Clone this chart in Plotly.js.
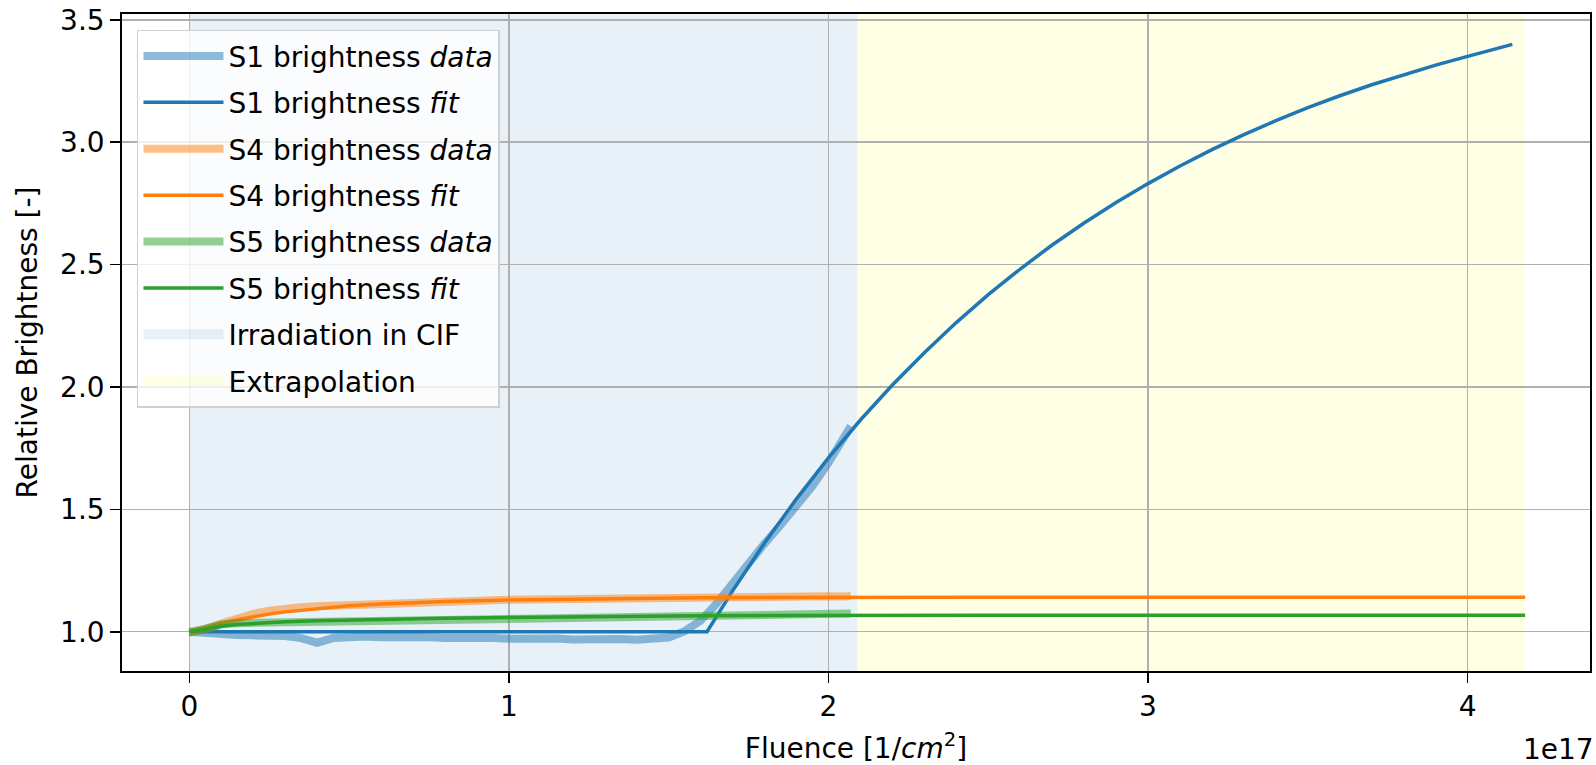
<!DOCTYPE html>
<html>
<head>
<meta charset="utf-8">
<script src="https://cdn.plot.ly/plotly-3.0.1.min.js"></script>
<style>html,body{margin:0;padding:0;background:#fff;}#chart{width:1596px;height:765px;}</style>
</head>
<body>
<div id="chart"></div>
<script>
// Fluence in units of 1e17 1/cm^2
const dataFluence = [0,0.05,0.10,0.15,0.20,0.25,0.30,0.35,0.40,0.45,0.50,0.55,0.60,0.65,0.70,0.75,0.80,0.85,0.90,0.95,1.00,1.05,1.10,1.15,1.20,1.25,1.30,1.35,1.40,1.45,1.50,1.55,1.60,1.65,1.70,1.75,1.80,1.85,1.90,1.95,2.00,2.05,2.07];
const s1Data = [1.000,0.993,0.990,0.987,0.985,0.986,0.982,0.974,0.955,0.974,0.981,0.980,0.977,0.979,0.975,0.977,0.974,0.976,0.972,0.974,0.971,0.973,0.969,0.972,0.968,0.971,0.967,0.970,0.967,0.969,0.976,1.002,1.045,1.115,1.200,1.280,1.360,1.435,1.515,1.595,1.690,1.790,1.840];
const s4Data = [1.000,1.010,1.033,1.056,1.073,1.086,1.095,1.100,1.104,1.107,1.110,1.113,1.116,1.118,1.121,1.122,1.125,1.126,1.128,1.129,1.131,1.132,1.134,1.134,1.136,1.137,1.138,1.139,1.140,1.140,1.141,1.142,1.143,1.142,1.143,1.144,1.143,1.144,1.145,1.144,1.145,1.144,1.146];
const s5Data = [0.995,1.016,1.030,1.035,1.036,1.038,1.040,1.042,1.044,1.045,1.047,1.048,1.050,1.051,1.052,1.053,1.054,1.055,1.056,1.057,1.058,1.059,1.060,1.061,1.061,1.062,1.063,1.063,1.064,1.065,1.065,1.066,1.066,1.067,1.067,1.068,1.068,1.069,1.069,1.070,1.070,1.071,1.074];

const s1FitFluence = [0,1.62,1.70,1.80,1.90,2.00,2.10,2.20,2.30,2.40,2.50,2.60,2.70,2.80,2.90,3.00,3.10,3.20,3.30,3.40,3.50,3.60,3.70,3.80,3.90,4.00,4.10,4.14];
const s1Fit = [1.000,1.000,1.167,1.362,1.543,1.710,1.865,2.008,2.140,2.263,2.377,2.482,2.580,2.670,2.754,2.831,2.903,2.970,3.031,3.088,3.141,3.190,3.235,3.276,3.315,3.351,3.384,3.400];

const fitFluence = [0,0.05,0.10,0.15,0.20,0.25,0.30,0.40,0.50,0.60,0.70,0.80,1.00,1.20,1.40,1.60,1.80,2.00,2.50,3.00,3.50,4.00,4.18];
const s4Fit = [1.000,1.019,1.035,1.049,1.062,1.072,1.081,1.095,1.106,1.113,1.119,1.123,1.130,1.134,1.137,1.139,1.140,1.141,1.141,1.141,1.141,1.141,1.141];
const s5Fit = [1.000,1.012,1.022,1.029,1.034,1.038,1.041,1.045,1.048,1.051,1.053,1.055,1.058,1.061,1.063,1.065,1.066,1.067,1.067,1.067,1.067,1.067,1.067];

const irradiationSpan = [0, 2.09];
const extrapolationSpan = [2.09, 4.18];

const seriesNames = ['S1 brightness <i>data</i>','S1 brightness <i>fit</i>','S4 brightness <i>data</i>','S4 brightness <i>fit</i>','S5 brightness <i>data</i>','S5 brightness <i>fit</i>'];
const spanNames = ['Irradiation in CIF','Extrapolation'];

const blue='#1f77b4', orange='#ff7f0e', green='#2ca02c';
const spanBlue='rgba(31,119,180,0.1)', spanYellow='rgba(255,255,0,0.1)';
const dataLine = c => ({color:c, width:8});
const fitLine = c => ({color:c, width:3.5});

const traces = [
  {x:dataFluence, y:s1Data, name:seriesNames[0], mode:'lines', line:dataLine(blue), opacity:0.5, legendgroup:'a'},
  {x:s1FitFluence, y:s1Fit, name:seriesNames[1], mode:'lines', line:fitLine(blue), legendgroup:'b'},
  {x:dataFluence, y:s4Data, name:seriesNames[2], mode:'lines', line:dataLine(orange), opacity:0.5, legendgroup:'c'},
  {x:fitFluence, y:s4Fit, name:seriesNames[3], mode:'lines', line:fitLine(orange), legendgroup:'d'},
  {x:dataFluence, y:s5Data, name:seriesNames[4], mode:'lines', line:dataLine(green), opacity:0.5, legendgroup:'e'},
  {x:fitFluence, y:s5Fit, name:seriesNames[5], mode:'lines', line:fitLine(green), legendgroup:'f'},
  // legend entries for the shaded spans (spans themselves are drawn as layout shapes)
  {x:[null], y:[null], name:spanNames[0], mode:'lines', line:{color:spanBlue, width:20}, legendgroup:'g'},
  {x:[null], y:[null], name:spanNames[1], mode:'lines', line:{color:spanYellow, width:20}, legendgroup:'h'}
];

const font = {family:'DejaVu Sans, sans-serif', size:28, color:'#000'};

const axisCommon = {
  showline:true, linecolor:'#000', linewidth:1.8, mirror:true,
  ticks:'outside', ticklen:10, tickwidth:1.6, tickcolor:'#000',
  showgrid:true, gridcolor:'#b0b0b0', gridwidth:1.5, zeroline:false,
  tickfont:font, automargin:false
};

const layout = {
  width:1596, height:765,
  margin:{l:122, r:6, t:14, b:94},
  paper_bgcolor:'#fff', plot_bgcolor:'#fff',
  font:font,
  showlegend:true,
  legend:{x:0.0102, y:0.976, xanchor:'left', yanchor:'top', bgcolor:'rgba(255,255,255,0.8)',
          bordercolor:'#d0d0d0', borderwidth:1.5, font:{family:'DejaVu Sans, sans-serif', size:28, color:'#000'},
          traceorder:'grouped', tracegroupgap:7, itemwidth:80},
  xaxis:Object.assign({}, axisCommon, {
    range:[-0.2106, 4.383], tickvals:[0,1,2,3,4], ticktext:['0','1','2','3','4'],
    title:{text:'Fluence [1/<i>cm</i><sup>2</sup>]', font:font, standoff:18}
  }),
  yaxis:Object.assign({}, axisCommon, {
    range:[0.8394, 3.524], tickvals:[1.0,1.5,2.0,2.5,3.0,3.5], ticktext:['1.0','1.5','2.0','2.5','3.0','3.5'],
    title:{text:'Relative Brightness [-]', font:font, standoff:14}
  }),
  shapes:[
    {type:'rect', xref:'x', yref:'paper', x0:irradiationSpan[0], x1:irradiationSpan[1], y0:0, y1:1,
     fillcolor:spanBlue, line:{width:0}, layer:'below'},
    {type:'rect', xref:'x', yref:'paper', x0:extrapolationSpan[0], x1:extrapolationSpan[1], y0:0, y1:1,
     fillcolor:spanYellow, line:{width:0}, layer:'below'}
  ],
  annotations:[
    {text:'1e17', xref:'paper', yref:'paper', x:1, y:0, xanchor:'right', yanchor:'middle', xshift:6, yshift:-78, showarrow:false, font:font}
  ]
};

Plotly.newPlot('chart', traces, layout, {staticPlot:true});
</script>
</body>
</html>
